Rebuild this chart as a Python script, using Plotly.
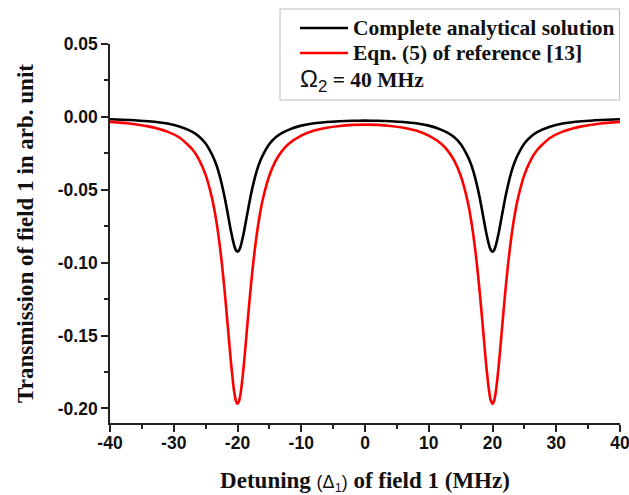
import plotly.graph_objects as go

# Detuning of field 1 (MHz)
detuning = [-40, -37, -34, -31, -29, -27, -26, -25, -24, -23.5, -23, -22.5, -22, -21.5,
            -21, -20.5, -20.25, -20, -19.75, -19.5, -19, -18.5, -18, -17.5, -17, -16.5,
            -16, -15, -14, -13, -12, -10, -8, -6, -4, -2, 0,
            2, 4, 6, 8, 10, 12, 13, 14, 15, 16, 16.5, 17, 17.5, 18, 18.5, 19, 19.5,
            19.75, 20, 20.25, 20.5, 21, 21.5, 22, 22.5, 23, 23.5, 24, 25, 26, 27, 29,
            31, 34, 37, 40]

# Complete analytical solution
complete = [-0.0016, -0.0021, -0.0030, -0.0046, -0.0068, -0.0105, -0.0136, -0.0182,
            -0.0258, -0.0308, -0.0372, -0.0455, -0.0555, -0.0672, -0.0790, -0.0885,
            -0.0915, -0.0925, -0.0915, -0.0886, -0.0791, -0.0673, -0.0556, -0.0456,
            -0.0374, -0.0310, -0.0261, -0.0186, -0.0140, -0.0110, -0.0089, -0.0060,
            -0.0044, -0.0035, -0.0030, -0.0027, -0.0026,
            -0.0027, -0.0030, -0.0035, -0.0044, -0.0060, -0.0089, -0.0110, -0.0140,
            -0.0186, -0.0261, -0.0310, -0.0374, -0.0456, -0.0556, -0.0673, -0.0791,
            -0.0886, -0.0915, -0.0925, -0.0915, -0.0885, -0.0790, -0.0672, -0.0555,
            -0.0455, -0.0372, -0.0308, -0.0258, -0.0182, -0.0136, -0.0105, -0.0068,
            -0.0046, -0.0030, -0.0021, -0.0016]

# Eqn. (5) of reference [13]
eqn5 = [-0.0034, -0.0045, -0.0065, -0.0101, -0.0145, -0.0227, -0.0296, -0.0398,
        -0.0557, -0.0668, -0.0809, -0.0986, -0.1202, -0.1448, -0.1696, -0.1891,
        -0.1947, -0.1968, -0.1948, -0.1892, -0.1698, -0.1449, -0.1204, -0.0989,
        -0.0812, -0.0671, -0.0560, -0.0402, -0.0300, -0.0233, -0.0186, -0.0129,
        -0.0094, -0.0074, -0.0062, -0.0055, -0.0053,
        -0.0055, -0.0062, -0.0074, -0.0094, -0.0129, -0.0186, -0.0233, -0.0300,
        -0.0402, -0.0560, -0.0671, -0.0812, -0.0989, -0.1204, -0.1449, -0.1698,
        -0.1892, -0.1948, -0.1968, -0.1947, -0.1891, -0.1696, -0.1448, -0.1202,
        -0.0986, -0.0809, -0.0668, -0.0557, -0.0398, -0.0296, -0.0227, -0.0145,
        -0.0101, -0.0065, -0.0045, -0.0034]

x_ticks = [-40, -30, -20, -10, 0, 10, 20, 30, 40]
x_ticktext = ["-40", "-30", "-20", "-10", "0", "10", "20", "30", "40"]
y_ticks = [0.05, 0.00, -0.05, -0.10, -0.15, -0.20]
y_ticktext = ["0.05", "0.00", "-0.05", "-0.10", "-0.15", "-0.20"]

series_names = ["Complete analytical solution", "Eqn. (5) of reference [13]"]
series_colors = ["#000000", "#ff0000"]

W, H = 629, 495
L, R, T, B = 110, 9, 44, 72
PW, PH = W - L - R, H - T - B

SERIF = "Liberation Serif, Times New Roman, serif"
SANS = "Liberation Sans, Arial, sans-serif"


def px_x(x):
    return (x - L) / PW


def px_y(y):
    return (H - B - y) / PH


fig = go.Figure()
for name, ys, col in zip(series_names, [complete, eqn5], series_colors):
    fig.add_trace(go.Scatter(x=detuning, y=ys, mode="lines", name=name,
                             line=dict(color=col, width=2.6, shape="spline", smoothing=0.6),
                             showlegend=False))

axis_common = dict(
    showline=True, linecolor="#222222", linewidth=1.6, mirror=False,
    ticks="outside", ticklen=7, tickwidth=1.6, tickcolor="#222222",
    showgrid=False, zeroline=False, ticklabeloverflow="allow",
    tickfont=dict(family=SANS, size=17.5, color="#111111", weight="bold"),
)

fig.update_xaxes(
    range=[-40, 40], tickvals=x_ticks, ticktext=x_ticktext, ticklabelstandoff=-4,
    minor=dict(dtick=5, tick0=-40, ticks="outside", ticklen=4, tickwidth=1.6, tickcolor="#222222"),
    title=dict(text="Detuning <span style='font-family:Liberation Sans;font-weight:normal;font-size:18px'>(Δ<sub>1</sub>)</span> of field 1 (MHz)",
               font=dict(family=SERIF, size=23, color="#111111", weight="bold"), standoff=26),
    automargin=False, **axis_common)

fig.update_yaxes(
    range=[-0.21, 0.05], tickvals=y_ticks, ticktext=y_ticktext,
    minor=dict(dtick=0.025, tick0=0, ticks="outside", ticklen=4, tickwidth=1.6, tickcolor="#222222"),
    title=dict(text="Transmission of field 1 in arb. unit",
               font=dict(family=SERIF, size=23, color="#111111", weight="bold"), standoff=18),
    automargin=False, **axis_common)

# Legend box drawn by hand
shapes = [dict(type="rect", xref="paper", yref="paper",
               x0=px_x(280), x1=px_x(619.5), y0=px_y(100), y1=px_y(9),
               line=dict(color="#bbbbbb", width=1), fillcolor="white", layer="above")]
annotations = []
row_y = [28, 53]
for name, col, yy in zip(series_names, series_colors, row_y):
    shapes.append(dict(type="line", xref="paper", yref="paper",
                       x0=px_x(300), x1=px_x(348), y0=px_y(yy), y1=px_y(yy),
                       line=dict(color=col, width=2.6), layer="above"))
    annotations.append(dict(xref="paper", yref="paper", x=px_x(351), y=px_y(yy),
                            xanchor="left", yanchor="middle", showarrow=False, text=name,
                            font=dict(family=SERIF, size=21.5, color="#111111", weight="bold")))
annotations.append(dict(xref="paper", yref="paper", x=px_x(298), y=px_y(80),
                        xanchor="left", yanchor="middle", showarrow=False,
                        text="<span style='font-family:Liberation Sans;font-size:24px'>Ω<sub>2</sub></span><b> = 40 MHz</b>",
                        font=dict(family=SERIF, size=21.5, color="#111111")))

fig.update_layout(
    width=W, height=H, margin=dict(l=L, r=R, t=T, b=B),
    paper_bgcolor="white", plot_bgcolor="white",
    shapes=shapes, annotations=annotations, showlegend=False,
)

fig.write_html("out.html")
